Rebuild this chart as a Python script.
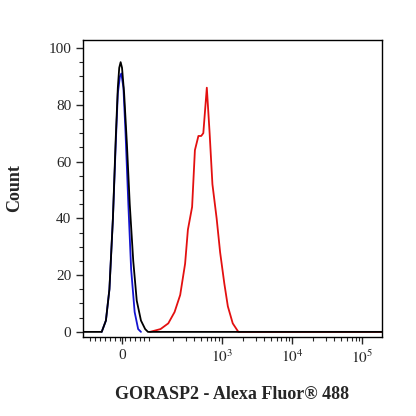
import numpy as np, pandas as pd, seaborn as sns, matplotlib
matplotlib.use("Agg")
import matplotlib.pyplot as plt

sns.set_style("white")
plt.rcParams['font.family'] = ['Liberation Serif', 'DejaVu Serif']
plt.rcParams['mathtext.fontset'] = 'stix'

# x in display units: 0 -> 0, 10^3 -> 1.43, each decade +1
black_x = [-0.557, -0.29, -0.23, -0.18, -0.13, -0.09, -0.06, -0.04, -0.02, 0.0, 0.03, 0.07, 0.11, 0.16, 0.21, 0.27, 0.33, 0.37, 3.71]
black_y = [0, 0, 4, 15, 40, 68, 86, 93, 95, 93, 84, 66, 45, 25, 11, 4, 1, 0, 0]
blue_x = [-0.29, -0.23, -0.18, -0.13, -0.09, -0.06, -0.03, -0.01, 0.02, 0.05, 0.09, 0.13, 0.18, 0.23, 0.27]
blue_y = [0, 4, 15, 40, 66, 84, 90, 91, 86, 70, 45, 22, 7, 1, 0]
red_x = [0.4, 0.55, 0.66, 0.75, 0.83, 0.9, 0.94, 1.0, 1.04, 1.09, 1.13, 1.16, 1.21, 1.25, 1.29, 1.35, 1.4, 1.46, 1.51, 1.58, 1.66, 3.71]
red_y = [0, 1, 3, 7, 13, 24, 36, 44, 64, 69, 69, 70, 86, 70, 52, 40, 28, 17, 9, 3, 0, 0]

frames = []
for name, xs, ys in [("red", red_x, red_y), ("blue", blue_x, blue_y), ("black", black_x, black_y)]:
    frames.append(pd.DataFrame({"x": xs, "y": ys, "s": name}))
df = pd.concat(frames)

fig = plt.figure(figsize=(4.16, 4.16), dpi=100)
ax = fig.add_axes([83/416, 1-337/416, 299/416, 297/416])
sns.lineplot(data=df, x="x", y="y", hue="s", palette={"red": "#e31010", "blue": "#1515d0", "black": "black"},
             sort=False, estimator=None, ax=ax, legend=False, linewidth=1.3)
ax.set_xlim(-0.557, 3.71)
ax.set_ylim(-1.8, 102.8)
ax.set_yticks([0, 20, 40, 60, 80, 100])
ax.set_yticks(np.arange(0, 101, 5), minor=True)
ax.set_xticks([0, 1.43, 2.43, 3.43])
ax.set_xticklabels(["0", "$10^3$", "$10^4$", "$10^5$"])
minor = list(np.arange(-0.45, 0.45, 0.07))
for base in [0.43, 1.43, 2.43]:
    for m in range(2, 10):
        minor.append(base + np.log10(m))
ax.set_xticks(minor, minor=True)
ax.tick_params(axis='both', which='major', direction='out', length=5, width=1, labelsize=11, bottom=True, left=True)
ax.tick_params(axis='both', which='minor', direction='out', length=3, width=0.8, bottom=True, left=True)
for s in ax.spines.values():
    s.set_color('black'); s.set_linewidth(1)
ax.set_xlabel("GORASP2 - Alexa Fluor® 488", fontsize=13, fontweight='bold', labelpad=14)
ax.set_ylabel("Count", fontsize=13, fontweight='bold', labelpad=18)
fig.savefig("out.png", dpi=100)
